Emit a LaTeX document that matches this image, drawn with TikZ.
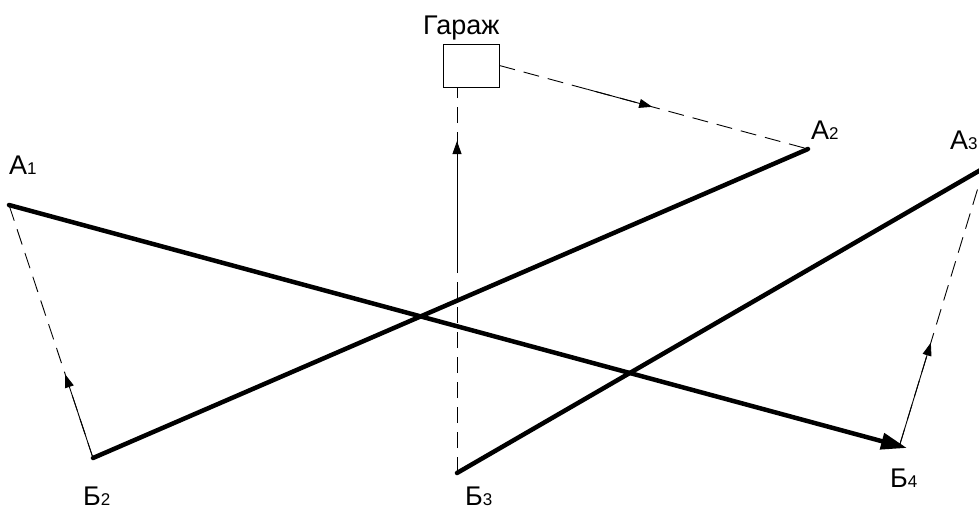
\documentclass[tikz,border=0pt]{standalone}
\usepackage{fontspec}
\setmainfont{Liberation Sans}
\usetikzlibrary{arrows.meta,calc}
\newcommand{\subfs}{\fontsize{17}{17}\selectfont}
\begin{document}
\begin{tikzpicture}[x=1pt,y=-1pt,
  thickline/.style={line width=4.5pt,line cap=round},
  thinline/.style={line width=0.9pt},
  dashline/.style={line width=0.9pt,dash pattern=on 16pt off 9pt},
  lbl/.style={inner sep=0pt,anchor=base west,text depth=0pt,font=\fontsize{27}{27}\selectfont},
  smallarrow/.style={-{Triangle[length=13pt,width=9pt]}},
  bigarrow/.style={-{Triangle[length=26pt,width=16pt]}}]
\useasboundingbox (0,0) rectangle (979,509);
% points
\coordinate (A1) at (9,205);
\coordinate (A2) at (808,149);
\coordinate (A3) at (984,168);
\coordinate (B2) at (93,458);
\coordinate (B3) at (457,473);
\coordinate (B4) at (907,448);
\coordinate (B4s) at (900,444);
\node[draw,thinline,minimum width=56pt,minimum height=43pt,inner sep=0pt] (G) at (471,65.5) {};
\coordinate (Gb) at (B3 |- G.south);
% labels
\node[lbl] (lG) at (423,34) {Гараж};
\node[lbl] (lA1) at (9,174) {А\subfs 1};
\node[lbl] (lA2) at (811,139) {А\subfs 2};
\node[lbl] (lA3) at (950,149) {А\subfs 3};
\node[lbl] (lB2) at (83,505) {Б\subfs 2};
\node[lbl] (lB3) at (465,505) {Б\subfs 3};
\node[lbl] (lB4) at (890,487) {Б\subfs 4};
% thick routes
\draw[thickline] (B2) -- (A2);
\draw[thickline] (B3) -- (A3);
\draw[thickline,bigarrow] (A1) -- (B4);
% empty runs
\draw[dashline] (B2) -- (A1);
\draw[thinline,smallarrow] (B2) -- ($(B2)!0.33!(A1)$);
\draw[dashline] (B3) -- (Gb);
\draw[thinline,smallarrow] ($(B3)!0.56!(Gb)$) -- ($(B3)!0.861!(Gb)$);
\draw[dashline] (G.east) -- (A2);
\draw[thinline,smallarrow] ($(G.east)!0.285!(A2)$) -- ($(G.east)!0.495!(A2)$);
\draw[dashline] (B4s) -- (A3);
\draw[thinline,smallarrow] (B4s) -- ($(B4s)!0.367!(A3)$);
\end{tikzpicture}
\end{document}
